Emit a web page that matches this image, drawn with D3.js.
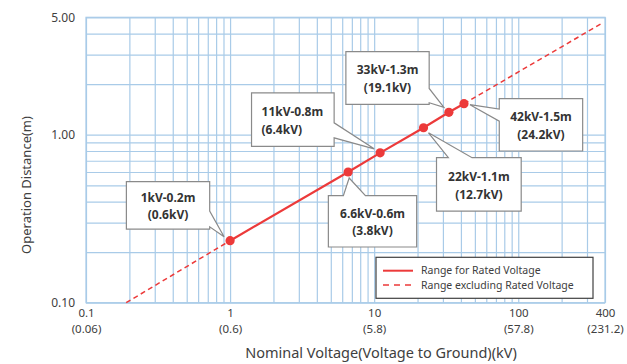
<!DOCTYPE html>
<html>
<head>
<meta charset="utf-8">
<script src="https://cdn.jsdelivr.net/npm/d3@7"></script>
<style>
  html, body { margin: 0; padding: 0; background: #ffffff; }
  svg { display: block; font-family: "Noto Sans", "Open Sans", sans-serif; }
</style>
</head>
<body>
<svg id="chart" width="627" height="364"></svg>
<script>
// ---------- data ----------
const xTickValues = [0.1, 1, 10, 100, 400];
const xTickLabels = ["0.1", "1", "10", "100", "400"];
const xTickSubLabels = ["(0.06)", "(0.6)", "(5.8)", "(57.8)", "(231.2)"];
const yTickValues = [0.1, 1, 5];
const yTickLabels = ["0.10", "1.00", "5.00"];
const xGridValues = [0.1, 0.2, 0.3, 0.4, 0.5, 0.6, 0.7, 0.8, 0.9,
                     1, 2, 3, 4, 5, 6, 7, 8, 9,
                     10, 20, 30, 40, 50, 60, 70, 80, 90,
                     100, 200, 300, 400];
const yGridValues = [0.1, 0.2, 0.3, 0.4, 0.5, 0.6, 0.7, 0.8, 0.9, 1, 2, 3, 4, 5];

const ratedVoltage = [1, 6.6, 11, 22, 33, 42];          // kV
const operationDistance = [0.234, 0.6, 0.78, 1.1, 1.36, 1.53]; // m (as plotted)
const calloutMain = ["1kV-0.2m", "6.6kV-0.6m", "11kV-0.8m", "22kV-1.1m", "33kV-1.3m", "42kV-1.5m"];
const calloutSub  = ["(0.6kV)", "(3.8kV)", "(6.4kV)", "(12.7kV)", "(19.1kV)", "(24.2kV)"];

const dashedLowVoltage = [0.19, 1];
const dashedLowDistance = [0.1, 0.234];
const dashedHighVoltage = [42, 380];
const dashedHighDistance = [1.53, 4.6];

const legendLabels = ["Range for Rated Voltage", "Range excluding Rated Voltage"];
const xTitle = "Nominal Voltage(Voltage to Ground)(kV)";
const yTitle = "Operation Distance(m)";

// ---------- layout ----------
const plot = { left: 86, right: 605, top: 17.3, bottom: 302.7 };
const gridColor = "#a9cbe8";
const red = "#ec3a3a";
const textColor = "#404040";

// callout layout: box offset from point (dx, dy), size, pointer side, base fractions, tip offset
const calloutLayout = [
  { dx: -103.7, dy: -59.1, w: 83.3, h: 47.6, side: "right", f1: 0.62, f2: 0.95, tx: -6, ty: -4, align: "middle" },
  { dx: -19.8,  dy: 23.7,  w: 88.3, h: 51.3, side: "top",   f1: 0.17, f2: 0.42, tx: 1,  ty: 6,  align: "middle" },
  { dx: -128.6, dy: -59.9, w: 82.6, h: 53.4, side: "right", f1: 0.56, f2: 0.84, tx: -6, ty: -4, align: "start" },
  { dx: 13,     dy: 29.9,  w: 84.7, h: 53.4, side: "top",   f1: 0.14, f2: 0.42, tx: 5,  ty: 5,  align: "middle" },
  { dx: -103,   dy: -60.7, w: 83.3, h: 52.7, side: "right", f1: 0.70, f2: 0.97, tx: -5, ty: -5, align: "middle" },
  { dx: 35.3,   dy: -5.1,  w: 83.4, h: 52.4, side: "left",  f1: 0.20, f2: 0.43, tx: 6,  ty: 1,  align: "middle" }
];

const svg = d3.select("#chart");
const x = d3.scaleLog().domain([0.1, 400]).range([plot.left, plot.right]);
const y = d3.scaleLog().domain([0.1, 5]).range([plot.bottom, plot.top]);

// ---------- grid ----------
const gx = svg.append("g")
  .attr("transform", `translate(0,${plot.bottom})`)
  .call(d3.axisBottom(x).tickValues(xGridValues).tickFormat("").tickSize(-(plot.bottom - plot.top)).tickSizeOuter(0));
gx.select(".domain").remove();
gx.selectAll("line").attr("stroke", gridColor).attr("stroke-width", 1.2);

const gy = svg.append("g")
  .attr("transform", `translate(${plot.left},0)`)
  .call(d3.axisLeft(y).tickValues(yGridValues).tickFormat("").tickSize(-(plot.right - plot.left)).tickSizeOuter(0));
gy.select(".domain").remove();
gy.selectAll("line").attr("stroke", gridColor).attr("stroke-width", 1.2);

svg.append("rect")
  .attr("x", plot.left).attr("y", plot.top)
  .attr("width", plot.right - plot.left).attr("height", plot.bottom - plot.top)
  .attr("fill", "none").attr("stroke", gridColor).attr("stroke-width", 1.2);

// ---------- axes labels ----------
const ax = svg.append("g")
  .attr("transform", `translate(0,${plot.bottom})`)
  .call(d3.axisBottom(x).tickValues(xTickValues).tickFormat((d, i) => xTickLabels[i]).tickSize(0).tickPadding(6));
ax.select(".domain").remove();
ax.selectAll("text").attr("fill", textColor).attr("font-size", 11.5).attr("font-family", "Noto Sans");

const ax2 = svg.append("g")
  .attr("transform", `translate(0,${plot.bottom})`)
  .call(d3.axisBottom(x).tickValues(xTickValues).tickFormat((d, i) => xTickSubLabels[i]).tickSize(0).tickPadding(22));
ax2.select(".domain").remove();
ax2.selectAll("text").attr("fill", textColor).attr("font-size", 11.5).attr("font-family", "Noto Sans");

const ay = svg.append("g")
  .attr("transform", `translate(${plot.left},0)`)
  .call(d3.axisLeft(y).tickValues(yTickValues).tickFormat((d, i) => yTickLabels[i]).tickSize(0).tickPadding(11));
ay.select(".domain").remove();
ay.selectAll("text").attr("fill", textColor).attr("font-size", 12).attr("font-family", "Noto Sans");

svg.append("text")
  .attr("x", 381).attr("y", 358)
  .attr("text-anchor", "middle")
  .attr("font-size", 14.5).attr("fill", textColor)
  .text(xTitle);

svg.append("text")
  .attr("transform", "translate(31,185) rotate(-90)")
  .attr("text-anchor", "middle")
  .attr("font-size", 13).attr("fill", textColor)
  .text(yTitle);

// ---------- lines ----------
const line = d3.line().x(d => x(d[0])).y(d => y(d[1]));
const lowDashed = dashedLowVoltage.map((v, i) => [v, dashedLowDistance[i]]);
const highDashed = dashedHighVoltage.map((v, i) => [v, dashedHighDistance[i]]);
[lowDashed, highDashed].forEach(seg => {
  svg.append("path").datum(seg)
    .attr("d", line).attr("fill", "none")
    .attr("stroke", red).attr("stroke-width", 1.5)
    .attr("stroke-dasharray", "5,3.5");
});
const solid = ratedVoltage.map((v, i) => [v, operationDistance[i]]);
svg.append("path").datum(solid)
  .attr("d", line).attr("fill", "none")
  .attr("stroke", red).attr("stroke-width", 2.2);

svg.append("g").selectAll("circle").data(solid).join("circle")
  .attr("cx", d => x(d[0])).attr("cy", d => y(d[1]))
  .attr("r", 4.6).attr("fill", red);

// ---------- callouts ----------
function calloutPath(bx, by, w, h, side, f1, f2, tip) {
  const p = [];
  p.push([bx, by]);
  if (side === "top") { p.push([bx + f1 * w, by], tip, [bx + f2 * w, by]); }
  p.push([bx + w, by]);
  if (side === "right") { p.push([bx + w, by + f1 * h], tip, [bx + w, by + f2 * h]); }
  p.push([bx + w, by + h]);
  if (side === "bottom") { p.push([bx + f2 * w, by + h], tip, [bx + f1 * w, by + h]); }
  p.push([bx, by + h]);
  if (side === "left") { p.push([bx, by + f2 * h], tip, [bx, by + f1 * h]); }
  return "M" + p.map(q => q[0] + "," + q[1]).join("L") + "Z";
}

const cg = svg.append("g");
solid.forEach((d, i) => {
  const L = calloutLayout[i];
  const px = x(d[0]), py = y(d[1]);
  const bx = px + L.dx, by = py + L.dy;
  const tip = [px + L.tx, py + L.ty];
  cg.append("path")
    .attr("d", calloutPath(bx, by, L.w, L.h, L.side, L.f1, L.f2, tip))
    .attr("fill", "#ffffff").attr("stroke", "#8a8a8a").attr("stroke-width", 1.2)
    .attr("stroke-linejoin", "miter");
  const tx = L.align === "start" ? bx + 10 : bx + L.w / 2;
  cg.append("text")
    .attr("x", tx).attr("y", by + L.h * 0.35).attr("dy", "0.35em")
    .attr("text-anchor", L.align)
    .attr("font-size", 12).attr("font-weight", "bold").attr("fill", "#333333")
    .text(calloutMain[i]);
  cg.append("text")
    .attr("x", tx).attr("y", by + L.h * 0.69).attr("dy", "0.35em")
    .attr("text-anchor", L.align)
    .attr("font-size", 12).attr("font-weight", "bold").attr("fill", "#333333")
    .text(calloutSub[i]);
});

// ---------- legend ----------
const lg = svg.append("g").attr("transform", "translate(376,257.3)");
lg.append("rect").attr("width", 217).attr("height", 41)
  .attr("fill", "#ffffff").attr("stroke", "#404040").attr("stroke-width", 1.2);
legendLabels.forEach((lab, i) => {
  const yy = 13.4 + i * 14.3;
  lg.append("line").attr("x1", 7).attr("x2", 37).attr("y1", yy).attr("y2", yy)
    .attr("stroke", red).attr("stroke-width", i === 0 ? 2 : 1.5)
    .attr("stroke-dasharray", i === 0 ? null : "6,5");
  lg.append("text").attr("x", 45).attr("y", yy).attr("dy", "0.35em")
    .attr("font-size", 10.5).attr("fill", textColor).text(lab);
});
</script>
</body>
</html>
